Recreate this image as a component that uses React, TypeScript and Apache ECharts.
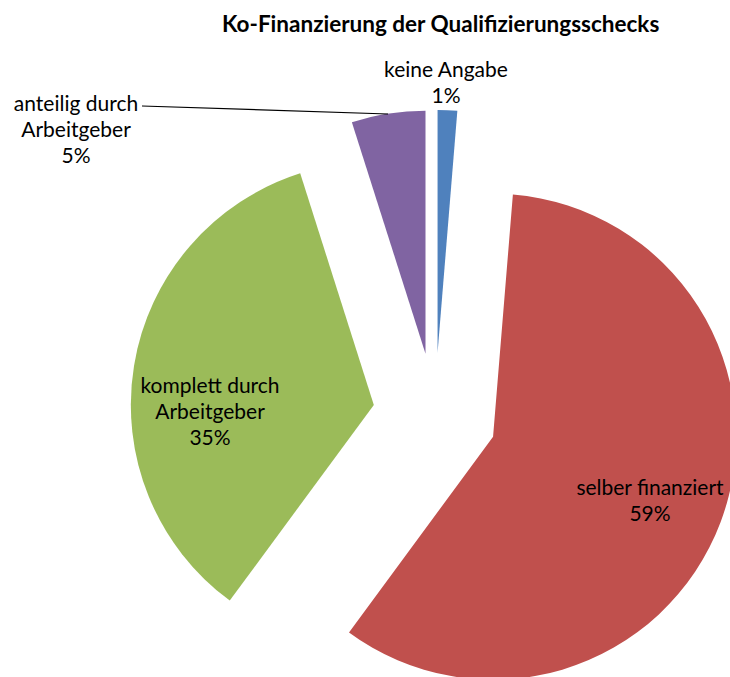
import React, { useEffect, useRef } from "react";
import * as echarts from "echarts";

const titleText = "Ko-Finanzierung der Qualifizierungsschecks";
const categories = [
  "keine Angabe",
  "selber finanziert",
  "komplett durch\nArbeitgeber",
  "anteilig durch\nArbeitgeber",
];
const values = [1.3, 58.8, 35.0, 4.9];
const colors = ["#4F81BD", "#C0504D", "#9BBB59", "#8064A2"];

// label text-block centres in pixels
const labelPos: [number, number][] = [
  [446, 81],
  [650, 499],
  [210, 410],
  [76, 128],
];
// leader line for the "anteilig" label
const leaderLine: [number, number][] = [
  [142, 106],
  [388, 114],
];
const FONT = "Lato, 'Open Sans', sans-serif";

export default function App() {
  const ref = useRef<HTMLDivElement>(null);
  useEffect(() => {
    if (!ref.current) return;
    const chart = echarts.init(ref.current, null, { renderer: "svg" });
    const total = values.reduce((a, b) => a + b, 0);
    const labelTexts = categories.map(
      (c, i) => `${c}\n${Math.round((values[i] / total) * 100)}%`
    );
    chart.setOption({
      animation: false,
      backgroundColor: "#ffffff",
      title: {
        text: titleText,
        left: 217,
        top: 7,
        textStyle: {
          fontFamily: FONT,
          fontWeight: "bold",
          fontSize: 22.5,
          color: "#000",
        },
      },
      graphic: [
        ...labelTexts.map((t, i) => ({
          type: "text",
          x: labelPos[i][0],
          y: labelPos[i][1],
          z: 10,
          style: {
            text: t,
            fontFamily: FONT,
            fontSize: 21,
            lineHeight: 26,
            fill: "#000",
            align: "center",
            verticalAlign: "middle",
          },
        })),
        {
          type: "polyline",
          z: 10,
          shape: { points: leaderLine },
          style: { stroke: "#000", lineWidth: 1.2, fill: null },
        },
      ],
      series: [
        {
          type: "pie",
          center: [435, 415],
          radius: 243,
          startAngle: 90,
          clockwise: true,
          selectedMode: "multiple",
          selectedOffset: 62,
          avoidLabelOverlap: false,
          emphasis: { disabled: true },
          itemStyle: { borderWidth: 0 },
          label: { show: false },
          labelLine: { show: false },
          data: categories.map((c, i) => ({
            name: c,
            value: values[i],
            selected: true,
            itemStyle: { color: colors[i] },
            select: { itemStyle: { color: colors[i] } },
          })),
        },
      ],
    });
    return () => chart.dispose();
  }, []);
  return (
    <div
      ref={ref}
      style={{ position: "absolute", left: 0, top: 0, width: 730, height: 677 }}
    />
  );
}
